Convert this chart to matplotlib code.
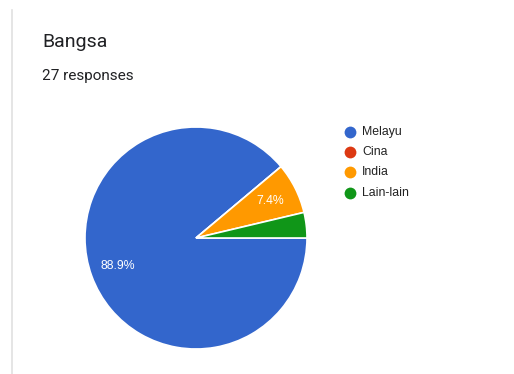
import matplotlib
matplotlib.use("Agg")
import matplotlib.pyplot as plt

# Survey results: "Bangsa" (ethnicity), 27 responses
categories = ["Melayu", "Cina", "India", "Lain-lain"]
counts = [24, 0, 2, 1]
colors = ["#3366cc", "#dc3912", "#ff9900", "#109618"]
title = "Bangsa"
subtitle = "27 responses"

W, H = 514, 374
fig = plt.figure(figsize=(W / 100, H / 100), dpi=100)
fig.patch.set_facecolor("white")

# Overlay in pixel coordinates for the card border, headings and legend
ov = fig.add_axes([0, 0, 1, 1])
ov.set_xlim(0, W)
ov.set_ylim(H, 0)
ov.axis("off")

ov.plot([12, 12], [10, H], color="#e0e0e0", lw=1.2)
ov.text(42, 47, title, fontsize=14, family="Roboto", color="#202124", va="baseline")
ov.text(42, 80, subtitle, fontsize=11, family="Roboto", color="#202124", va="baseline")

for i, (name, col) in enumerate(zip(categories, colors)):
    y = 132 + i * 20.2
    ov.plot(350, y, marker="o", ms=8.5, color=col, mec="none")
    ov.text(362, y, name, fontsize=8.8, family="Liberation Sans", color="#222222", va="center")

# Pie chart
ax = fig.add_axes([85 / W, (H - 349) / H, 222 / W, 222 / H])


def fmt(p):
    return f"{p:.1f}%" if p >= 5 else ""


wedges, texts, autotexts = ax.pie(
    counts,
    colors=colors,
    startangle=0,
    counterclock=False,
    autopct=fmt,
    pctdistance=0.745,
    wedgeprops=dict(edgecolor="white", linewidth=1.2),
    textprops=dict(color="white", fontsize=8.8, family="Liberation Sans"),
)
ax.set_xlim(-1, 1)
ax.set_ylim(-1, 1)
ax.set_aspect("equal")
ax.axis("off")

fig.savefig("out.png", dpi=100, facecolor="white")
